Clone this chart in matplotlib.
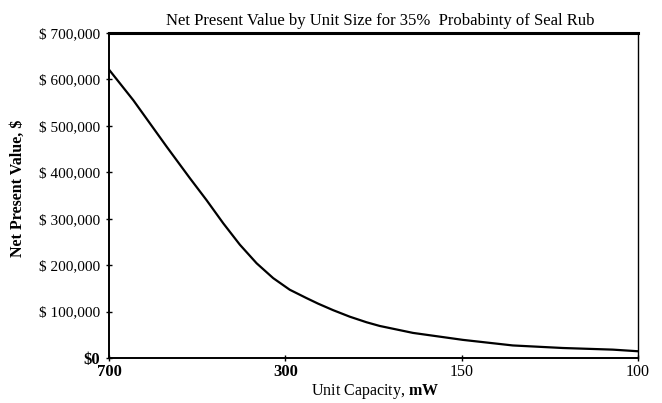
import matplotlib
matplotlib.use("Agg")
from matplotlib import pyplot as plt

# data
cap_labels = ["700", "300", "150", "100"]
cap_bold = [True, True, False, False]
# position along the capacity axis (0 = 700 ... 3 = 100) and net present value
curve_pos = [0.0, 0.138, 0.327, 0.459, 0.553, 0.648, 0.742, 0.837, 0.931, 1.025, 1.12,
             1.186, 1.271, 1.365, 1.46, 1.535, 1.724, 2.007, 2.29, 2.574, 2.857, 3.0]
curve_npv = [621000, 555000, 455000, 387000, 340000, 290000, 244000, 204000, 172000, 147000, 129000,
             117000, 103000, 89000, 77000, 69000, 54000, 39000, 27000, 21500, 18000, 14500]
y_ticks = [0, 100000, 200000, 300000, 400000, 500000, 600000, 700000]
y_labels = ["$0", "$ 100,000", "$ 200,000", "$ 300,000", "$ 400,000", "$ 500,000", "$ 600,000", "$ 700,000"]

plt.rcParams['font.family'] = ['Liberation Serif', 'DejaVu Serif']
plt.rcParams['mathtext.fontset'] = 'custom'
plt.rcParams['mathtext.rm'] = 'Liberation Serif'
plt.rcParams['mathtext.bf'] = 'Liberation Serif:bold'

fig = plt.figure(figsize=(6.62, 4.03), dpi=100)
ax = fig.add_axes([0.1647, 0.1117, 0.799, 0.8065])

ax.plot(curve_pos, curve_npv, color='black', lw=1.6, solid_joinstyle='round')

ax.set_xlim(0, 3)
ax.set_ylim(0, 700000)
ax.set_xticks(range(len(cap_labels)))
ax.set_xticklabels(cap_labels)
for t, b in zip(ax.get_xticklabels(), cap_bold):
    t.set_fontweight('bold' if b else 'normal')
    t.set_fontsize(12 if b else 11.5)
ax.set_yticks(y_ticks)
ax.set_yticklabels(y_labels)
for i, t in enumerate(ax.get_yticklabels()):
    if i == 0:
        t.set_fontweight('bold')
        t.set_fontsize(12)
    else:
        t.set_fontsize(11)

ax.tick_params(direction='inout', length=5, width=1, pad=4)
ax.tick_params(axis='x', pad=2)

ax.spines['top'].set_linewidth(2.2)
ax.spines['left'].set_linewidth(1.4)
ax.spines['bottom'].set_linewidth(1.4)
ax.spines['right'].set_linewidth(1.0)

ax.set_title("Net Present Value by Unit Size for 35%  Probabinty of Seal Rub", fontsize=12, x=0.512, pad=6)
ax.set_xlabel("Unit Capacity, $\\mathbf{mW}$", fontsize=11.5)
ax.xaxis.set_label_coords(0.503, -0.074)
ax.set_ylabel("Net Present Value, $", fontsize=11.5, fontweight='bold')
ax.yaxis.set_label_coords(-0.157, 0.523)

fig.savefig("out.png", dpi=100)
